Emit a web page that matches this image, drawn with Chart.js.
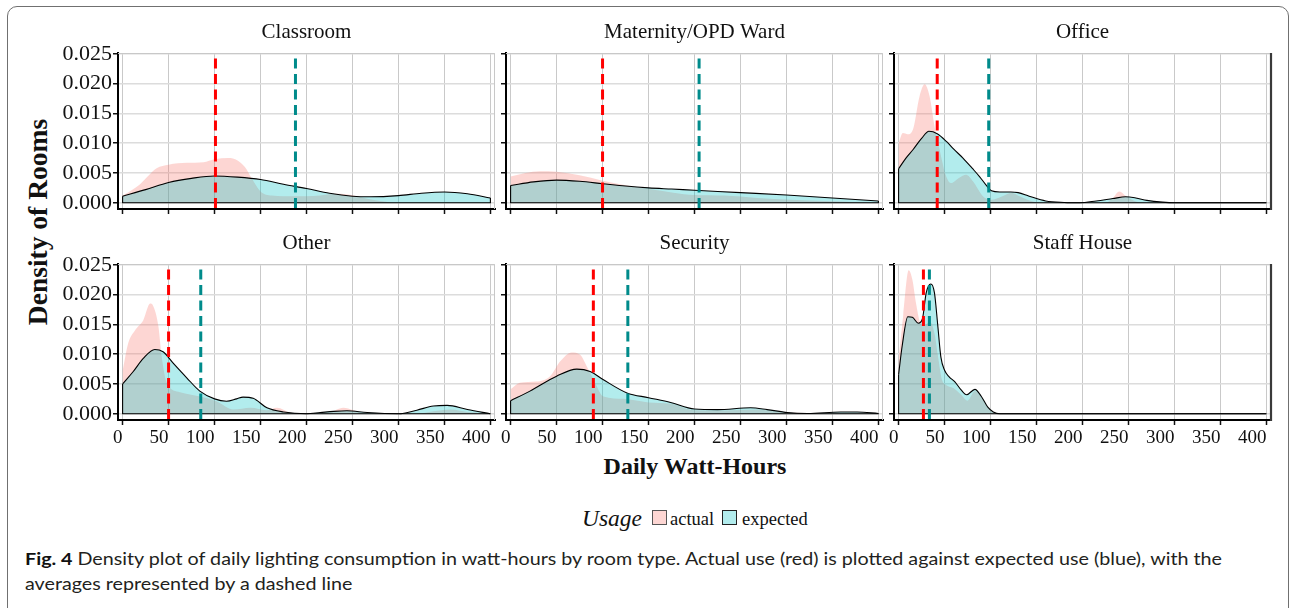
<!DOCTYPE html>
<html><head><meta charset="utf-8">
<script src="https://cdn.jsdelivr.net/npm/chart.js@4/dist/chart.umd.min.js"></script>
<style>
html,body{margin:0;padding:0;background:#fff;width:1292px;height:608px;overflow:hidden;}
#stage{position:relative;width:1292px;height:608px;overflow:hidden;}
.abs{position:absolute;white-space:nowrap;}
canvas{position:absolute;}
#frame{left:7px;top:6px;width:1282px;height:800px;border:1.5px solid #707070;border-radius:10px;box-sizing:border-box;}
.serif{font-family:'Liberation Serif','Times New Roman',serif;color:#111;}
#ytitle{left:38px;top:222px;transform:translate(-50%,-50%) rotate(-90deg);font-weight:bold;font-size:27.5px;line-height:1;}
#xtitle{left:695px;top:466px;transform:translate(-50%,-50%);font-weight:bold;font-size:24px;line-height:1;}
.sw{position:absolute;width:15px;height:15px;box-sizing:border-box;border:1px solid #333;}
#caption{left:25px;top:547px;font-family:'Lato','Open Sans',sans-serif;font-size:17px;line-height:24.5px;color:#231f20;transform-origin:0 0;}
#caption b{color:#111;}
</style></head>
<body><div id="stage">
<div id="frame" class="abs"></div>
<div id="ytitle" class="abs serif">Density of Rooms</div>
<div id="xtitle" class="abs serif">Daily Watt-Hours</div>
<div class="abs serif" style="left:582px;top:507px;font-size:23.5px;line-height:1;font-style:italic;">Usage</div>
<div class="sw" style="left:652px;top:510px;background:rgba(248,118,109,0.3);border-color:#555;"></div>
<div class="abs serif" style="left:670px;top:510px;font-size:18.5px;line-height:1;">actual</div>
<div class="sw" style="left:722px;top:510px;background:rgba(0,191,196,0.3);border-color:#222;"></div>
<div class="abs serif" style="left:742px;top:510px;font-size:18.5px;line-height:1;">expected</div>
<div id="caption" class="abs"><div id="cap1"><b>Fig. 4</b> Density plot of daily lighting consumption in watt-hours by room type. Actual use (red) is plotted against expected use (blue), with the</div><div>averages represented by a dashed line</div></div>
</div>
<script>
// ---------- data ----------
const panelNames = ['Classroom','Maternity/OPD Ward','Office','Other','Security','Staff House'];
const xTicks = [0,50,100,150,200,250,300,350,400];
const yTicks = [0,0.005,0.010,0.015,0.020,0.025];
const meanActual   = [101, 100, 42, 50, 90, 27];
const meanExpected = [188, 205, 98, 85, 127.5, 33.5];

const classroomActual = [[0,0.0012],[18,0.003],[37,0.0058],[50,0.0064],[70,0.0067],[88,0.0068],[100,0.0073],[115,0.0075],[125,0.0071],[133,0.006],[140,0.0042],[150,0.0019],[162,0.0012],[175,0.0011],[200,0.0011],[215,0.0012],[230,0.0015],[245,0.0014],[260,0.0009],[275,0.0004],[290,0.0001],[300,0],[400,0]];
const classroomExpected = [[0,0.0011],[25,0.0022],[50,0.0034],[75,0.0041],[100,0.0045],[125,0.0043],[150,0.0039],[175,0.0031],[200,0.0024],[225,0.0016],[250,0.0011],[270,0.001],[300,0.0012],[325,0.0016],[350,0.0018],[375,0.0015],[400,0.0008]];

const maternityActual = [[0,0.0044],[16,0.005],[32,0.0053],[50,0.0052],[75,0.0046],[100,0.0037],[130,0.0028],[150,0.0023],[177,0.0017],[200,0.0013],[232,0.0012],[268,0.0008],[305,0.0005],[341,0.0003],[377,0.0001],[400,0]];
const maternityExpected = [[0,0.0029],[25,0.0035],[50,0.0038],[75,0.0036],[100,0.0032],[125,0.0028],[150,0.0025],[175,0.0023],[200,0.0021],[250,0.0017],[300,0.0013],[350,0.0008],[400,0.0003]];

const officeActual = [[0,0.0100],[4.7,0.0117],[10,0.0115],[15.6,0.0123],[22.8,0.0179],[28.3,0.0199],[33.7,0.0179],[39,0.0129],[44.6,0.0089],[51.8,0.0044],[57,0.0033],[66,0.0042],[73.5,0.0047],[80.8,0.0036],[91.7,0.0011],[100.7,0.0005],[113,0.0011],[122.5,0.0017],[131.5,0.0011],[146,0.0002],[160,0],[225,0],[233,0.0008],[240,0.0019],[247.5,0.0011],[258,0.0002],[270,0],[400,0]];
const officeExpected = [[0,0.0057],[8,0.0075],[15.6,0.0089],[25,0.0108],[33,0.012],[42,0.0116],[52,0.0103],[60,0.009],[70,0.0075],[80,0.0058],[88,0.0044],[95,0.003],[101,0.002],[110,0.0018],[122,0.0018],[130,0.0017],[142,0.0011],[160,0.0003],[180,0.00005],[197,0],[215,0.0003],[233,0.0007],[247,0.001],[258,0.0008],[270,0.0004],[287,0.0001],[300,0],[400,0]];

const otherActual = [[0,0.0071],[6,0.0118],[13.4,0.014],[22.5,0.0157],[30,0.0185],[33,0.0182],[39,0.0146],[42.5,0.0096],[48,0.0052],[62.5,0.0036],[84,0.0029],[102,0.0021],[120.6,0.0007],[139,0.001],[157,0.0006],[168,0.001],[182,0.0002],[200,0],[225,0.0002],[240,0.001],[251,0.0006],[265,0],[320,0],[338,0.0004],[356.6,0.0007],[375,0.0003],[400,0]];
const otherExpected = [[0,0.005],[11.6,0.0071],[22.5,0.0093],[35,0.0108],[44,0.0104],[55,0.0085],[70,0.006],[84,0.0038],[100,0.0025],[113,0.0021],[124,0.0025],[131,0.0028],[142,0.0026],[157,0.001],[175,0.0003],[200,0],[215,0.0002],[229.5,0.0004],[244,0.0005],[266,0.0002],[300,0],[320,0.0006],[338,0.0013],[353,0.0014],[375,0.0007],[400,0]];

const securityActual = [[0,0.0041],[10,0.0052],[28,0.0054],[43,0.0063],[54,0.0088],[66.5,0.0103],[75.6,0.0099],[84.7,0.0074],[90,0.0058],[101,0.0029],[123,0.0025],[150,0.0019],[174,0.0017],[200,0.0006],[232,0.00055],[268,0.0007],[297,0.0002],[341,0.0001],[377,0.0002],[400,0]];
const securityExpected = [[0,0.0022],[21,0.0038],[50,0.0063],[72,0.0075],[86.5,0.0071],[101,0.0057],[126.5,0.0035],[150,0.0027],[174,0.0019],[200,0.0008],[225,0.0007],[261,0.001],[279,0.0007],[301,0.0002],[323,0.00005],[359,0.0003],[377,0.0003],[400,0.00005]];

const staffActual = [[0,0.009],[5,0.0165],[11,0.0241],[15,0.0225],[19,0.0185],[23,0.0155],[28,0.0148],[34,0.0155],[39,0.0135],[43,0.0095],[47,0.0058],[52,0.0048],[60,0.0043],[68,0.0032],[75,0.0022],[83,0.0038],[90,0.0027],[97,0.001],[103,0.0003],[110,0]];
const staffExpected = [[0,0.0066],[4,0.0115],[10,0.0163],[15,0.0162],[21.5,0.0152],[26,0.016],[30,0.0203],[35,0.0218],[39,0.0203],[42.5,0.015],[46,0.0095],[50,0.0073],[55,0.0062],[61,0.0054],[68,0.004],[74,0.0032],[83,0.0041],[90,0.0029],[97,0.0011],[103,0.0003],[110,0],[400,0]];

const actualSeries = [classroomActual, maternityActual, officeActual, otherActual, securityActual, staffActual];
const expectedSeries = [classroomExpected, maternityExpected, officeExpected, otherExpected, securityExpected, staffExpected];

// ---------- layout / style ----------
const X_MIN = -5, X_MAX = 405, Y_MIN = -0.00105, Y_MAX = 0.02515;
const COL_L = [118, 506, 894], AREA_W = 377;
const ROW_T = [53, 264], AREA_H = 156;
const YW = 80, XH = 40, TH = 37;
const serif = "'Liberation Serif','Times New Roman',serif";

const pts = a => a.map(p => ({x: p[0], y: p[1]}));

const panelBorder = {
  id: 'panelBorder',
  afterDatasetsDraw(chart, args, opts) {
    const {ctx, chartArea: a} = chart;
    ctx.save();
    ctx.strokeStyle = '#c8c8c8'; ctx.lineWidth = 1;
    ctx.beginPath();
    ctx.moveTo(a.left, a.top + 0.5); ctx.lineTo(a.right - 0.5, a.top + 0.5); ctx.lineTo(a.right - 0.5, a.bottom);
    ctx.stroke();
    if (opts.dark) {
      ctx.strokeStyle = '#3a3a3a'; ctx.lineWidth = 2.2;
      ctx.beginPath(); ctx.moveTo(a.right, a.top); ctx.lineTo(a.right, a.bottom + 1); ctx.stroke();
    }
    ctx.restore();
  }
};

const stage = document.getElementById('stage');
panelNames.forEach((name, i) => {
  const col = i % 3, row = Math.floor(i / 3);
  const cv = document.createElement('canvas');
  const w = YW + AREA_W + YW, h = TH + AREA_H + XH;
  cv.width = w; cv.height = h;
  cv.style.left = (COL_L[col] - YW) + 'px';
  cv.style.top = (ROW_T[row] - TH) + 'px';
  cv.style.width = w + 'px'; cv.style.height = h + 'px';
  stage.appendChild(cv);

  const exp = expectedSeries[i];
  const first = exp[0], last = exp[exp.length - 1];
  const outline = [[first[0], first[1]], [first[0], 0], [last[0], 0], [last[0], last[1]]];

  const dashCommon = {type: 'line', fill: false, pointRadius: 0, borderWidth: 3, borderDash: [10, 5.5], borderDashOffset: 10, tension: 0, order: 1};
  new Chart(cv, {
    type: 'line',
    data: {datasets: [
      Object.assign({label: 'actual mean', data: pts([[meanActual[i], Y_MAX], [meanActual[i], Y_MIN]]), borderColor: '#ff0000'}, dashCommon),
      Object.assign({label: 'expected mean', data: pts([[meanExpected[i], Y_MAX], [meanExpected[i], Y_MIN]]), borderColor: '#008b8b'}, dashCommon),
      {label: 'expected outline', data: pts(outline), borderColor: '#000', borderWidth: 1.1, fill: false, pointRadius: 0, tension: 0, order: 2},
      {label: 'expected', data: pts(exp), borderColor: '#000', borderWidth: 1.1, backgroundColor: 'rgba(0,191,196,0.3)', fill: 'origin', pointRadius: 0, cubicInterpolationMode: 'monotone', order: 3},
      {label: 'actual', data: pts(actualSeries[i]), borderColor: 'rgba(0,0,0,0)', borderWidth: 0, backgroundColor: 'rgba(248,118,109,0.3)', fill: 'origin', pointRadius: 0, cubicInterpolationMode: 'monotone', order: 4}
    ]},
    options: {
      responsive: false, animation: false, devicePixelRatio: 1, events: [],
      layout: {padding: 0},
      plugins: {
        legend: {display: false}, tooltip: {enabled: false},
        title: {display: true, text: name, color: '#111', font: {family: serif, size: 21, weight: 'normal', lineHeight: 1}, padding: {top: 6, bottom: 10}},
        panelBorder: {dark: col === 2}
      },
      scales: {
        x: {
          type: 'linear', min: X_MIN, max: X_MAX,
          afterBuildTicks: s => { s.ticks = xTicks.map(v => ({value: v})); },
          afterFit: s => { s.height = XH; },
          grid: {color: '#c9c9c9', lineWidth: 1, tickColor: '#111', tickLength: 5, tickWidth: 1.5},
          border: {display: true, color: '#000', width: 2},
          ticks: {autoSkip: false, maxRotation: 0, minRotation: 0, align: 'end', padding: 2, color: '#111',
                  font: {family: serif, size: 19},
                  callback: v => row === 1 ? String(v) : ''}
        },
        y: {
          type: 'linear', min: Y_MIN, max: Y_MAX,
          afterBuildTicks: s => { s.ticks = yTicks.map(v => ({value: v})); },
          afterFit: s => { s.width = YW; },
          grid: {color: '#dcdcdc', lineWidth: 1.5, tickColor: '#111', tickLength: 5, tickWidth: 1.5},
          border: {display: true, color: '#000', width: 2},
          ticks: {padding: 1, color: '#111', font: {family: serif, size: 22},
                  callback: v => col === 0 ? v.toFixed(3) : ''}
        },
        // empty spacer axis on the right, so the strip title centres over the panel
        yr: {
          type: 'linear', position: 'right', min: Y_MIN, max: Y_MAX,
          afterFit: s => { s.width = YW; },
          grid: {display: false, drawTicks: false}, border: {display: false},
          ticks: {display: false}
        }
      }
    },
    plugins: [panelBorder]
  });
});

// fit caption width to reference line length
const cap = document.getElementById('caption');
const w1 = document.getElementById('cap1').getBoundingClientRect().width;
cap.style.transform = 'scaleX(' + (1197 / w1) + ')';
</script>
</body></html>
